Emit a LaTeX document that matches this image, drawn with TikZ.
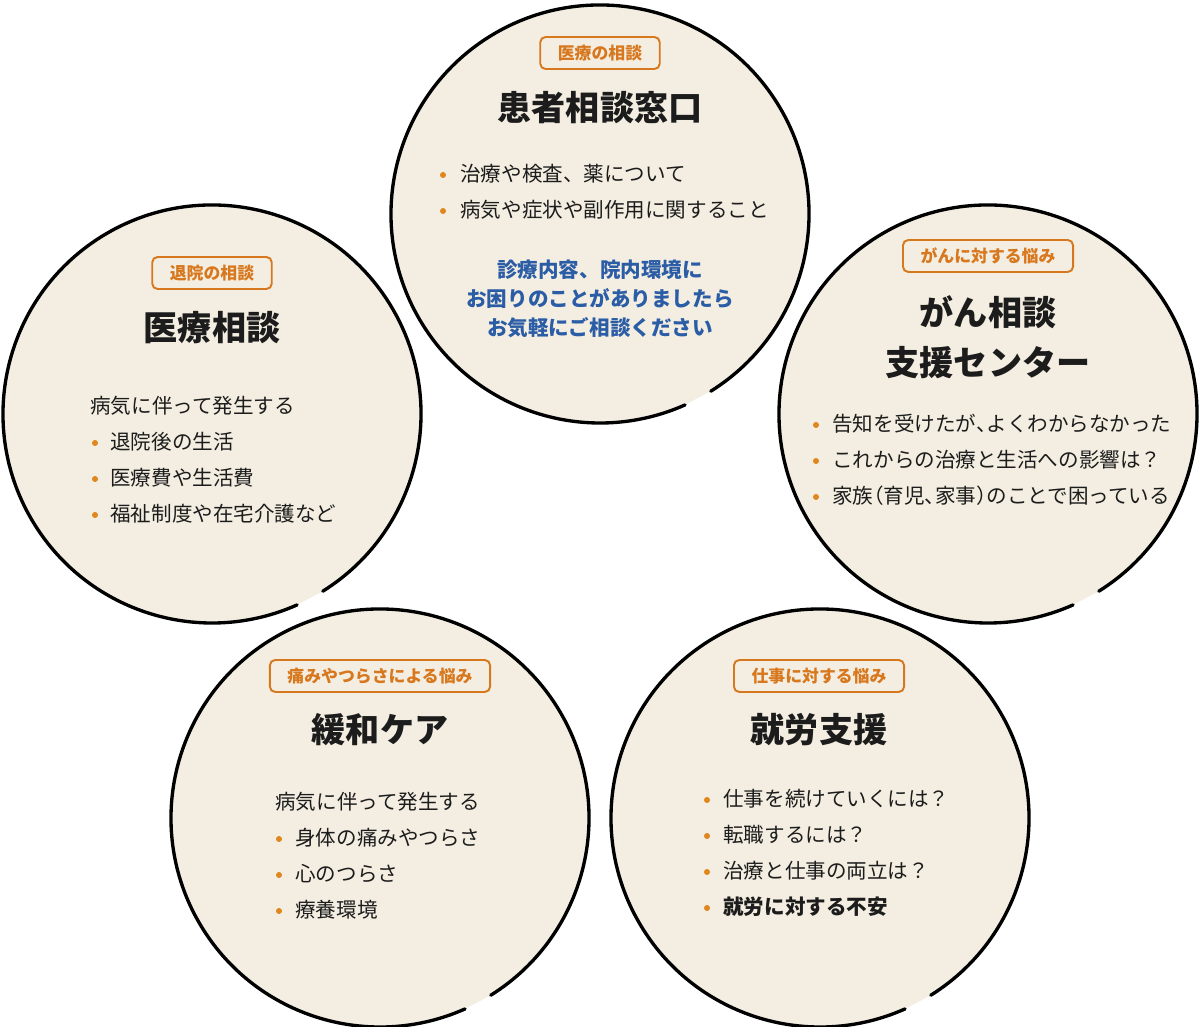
\documentclass[tikz,border=0pt]{standalone}
\usepackage{fontspec}
\setmainfont{Noto Sans CJK JP}
\usepackage{tikz}

\definecolor{beige}{HTML}{F3EEE1}
\definecolor{ink}{HTML}{1C1C1C}
\definecolor{tagorange}{HTML}{D8781E}
\definecolor{dotorange}{HTML}{E0861C}
\definecolor{infoblue}{HTML}{2B5CA6}

% half-width punctuation
\newcommand{\halfl}[1]{\makebox[0.5em][l]{#1}}
\newcommand{\halfr}[1]{\makebox[0.5em][r]{#1}}

\begin{document}
\begin{tikzpicture}[x=0.02cm, y=0.02cm,
    tagbox/.style={draw=tagorange, line width=1.1pt, rounded corners=3pt,
        text=tagorange, font=\fontsize{9.6}{11}\selectfont\bfseries,
        minimum height=0.64cm, inner xsep=10pt, inner ysep=0pt},
    headline/.style={font=\fontsize{19.4}{28.3}\selectfont\bfseries,
        align=center, text=ink},
    body/.style={font=\fontsize{11.7}{14}\selectfont, text=ink,
        anchor=west, inner sep=0pt},
    bulletdot/.style={circle, fill=dotorange, inner sep=0pt, minimum size=0.12cm}]

\useasboundingbox (0,0) rectangle (1200,1027);

\def\rad{209} % rayon des cercles
\def\gap{36}  % interligne des puces

% circles (small cut at lower right)
\foreach \name/\cx/\cy in {top/600/813, left/212/613, right/988/613,
                           botl/380/209, botr/820/209} {
    \coordinate (\name) at (\cx,\cy);
    \fill[beige] (\name) ++(-58:\rad)
        arc[start angle=-58, end angle=294, radius=\rad] -- cycle;
    \draw[line width=1.9pt, line cap=round] (\name) ++(-58:\rad)
        arc[start angle=-58, end angle=294, radius=\rad];
}

% top circle
\node[tagbox] (top-tag) at (600,974) {医療の相談};
\node[headline] (top-title) at (600,919) {患者相談窓口};
\foreach \k/\txt in {0/治療や検査、薬について, 1/病気や症状や副作用に関すること} {
    \node[bulletdot] (top-d\k) at (443,852-\gap*\k) {};
    \node[body] (top-t\k) at (460,853-\gap*\k) {\txt};
}
\node[font=\fontsize{11.7}{16.5}\selectfont\bfseries, text=infoblue,
    align=center] (top-info) at (600,728)
    {診療内容、院内環境に\\お困りのことがありましたら\\お気軽にご相談ください};

% left circle
\node[tagbox] (left-tag) at (212,754) {退院の相談};
\node[headline] (left-title) at (212,699) {医療相談};
\node[body] (left-intro) at (90,621) {病気に伴って発生する};
\foreach \k/\txt in {0/退院後の生活, 1/医療費や生活費, 2/福祉制度や在宅介護など} {
    \node[bulletdot] (left-d\k) at (95,584-\gap*\k) {};
    \node[body] (left-t\k) at (110,585-\gap*\k) {\txt};
}

% right circle
\node[tagbox] (right-tag) at (988,771) {がんに対する悩み};
\node[headline] (right-title) at (988,690) {がん相談\\支援センター};
\foreach \k/\txt in {0/告知を受けたが\halfl{、}よくわからなかった,
                     1/これからの治療と生活への影響は？,
                     2/家族\halfr{（}育児\halfl{、}家事\halfl{）}のことで困っている} {
    \node[bulletdot] (right-d\k) at (816,602-\gap*\k) {};
    \node[body] (right-t\k) at (832,603-\gap*\k) {\txt};
}

% bottom left circle
\node[tagbox] (botl-tag) at (380,351) {痛みやつらさによる悩み};
\node[headline] (botl-title) at (380,297) {緩和ケア};
\node[body] (botl-intro) at (275,225) {病気に伴って発生する};
\foreach \k/\txt in {0/身体の痛みやつらさ, 1/心のつらさ, 2/療養環境} {
    \node[bulletdot] (botl-d\k) at (279,188-\gap*\k) {};
    \node[body] (botl-t\k) at (295,189-\gap*\k) {\txt};
}

% bottom right circle
\node[tagbox] (botr-tag) at (819,351) {仕事に対する悩み};
\node[headline] (botr-title) at (819,297) {就労支援};
\foreach \k/\txt in {0/仕事を続けていくには？, 1/転職するには？,
                     2/治療と仕事の両立は？, 3/{\bfseries 就労に対する不安}} {
    \node[bulletdot] (botr-d\k) at (707,227-\gap*\k) {};
    \node[body] (botr-t\k) at (723,228-\gap*\k) {\txt};
}

\end{tikzpicture}
\end{document}
